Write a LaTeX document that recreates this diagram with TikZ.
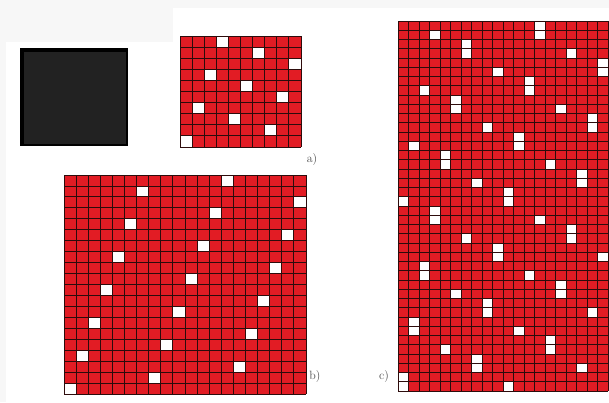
\documentclass[tikz,border=0pt]{standalone}
\usepackage{tikz}
\usepackage{xcolor}
\definecolor{cellred}{RGB}{226,28,36}
\definecolor{cellline}{RGB}{45,12,12}
\definecolor{panelgray}{RGB}{247,247,247}
\definecolor{squaregray}{RGB}{34,34,34}

\begin{document}
\begin{tikzpicture}[
  x=1pt, y=-1pt,
  font=\large,
  gridline/.style={draw=cellline, line width=0.9pt},
  hole/.style={fill=white},
  tag/.style={text=black!70, inner sep=0pt}
]
\useasboundingbox (0,0) rectangle (609,402);
\fill[white] (0,0) rectangle (609,402);
\fill[panelgray] (0,0) rectangle (173,42);
\fill[panelgray] (173,0) rectangle (609,8);
\fill[panelgray] (0,42) rectangle (6,402);

% solid square
\fill[black] (20,48) rectangle (128,146);
\fill[squaregray] (24,52) rectangle (126,144);

% a) 10 x 10
\begin{scope}[shift={(180,36)}, x=12.1pt, y=-11.1pt]
  \fill[cellred] (0,0) rectangle (10,10);
  \foreach \r in {0,...,9} {
    \pgfmathtruncatemacro\c{mod(7*\r,10)}
    \fill[hole] (\c,9-\r) rectangle ++(1,1);
  }
  \foreach \i in {0,...,10} {
    \draw[gridline] (\i,0) -- (\i,10);
    \draw[gridline] (0,\i) -- (10,\i);
  }
\end{scope}
\node[tag] (lbla) at (312,160) {a)};

% b) 20 x 20
\begin{scope}[shift={(64,175)}, x=12.1pt, y=-10.95pt]
  \fill[cellred] (0,0) rectangle (20,20);
  \foreach \r in {0,...,19} {
    \pgfmathtruncatemacro\c{mod(7*\r,20)}
    \fill[hole] (\c,19-\r) rectangle ++(1,1);
  }
  \foreach \i in {0,...,20} {
    \draw[gridline] (\i,0) -- (\i,20);
    \draw[gridline] (0,\i) -- (20,\i);
  }
\end{scope}
\node[tag] (lblb) at (315,376) {b)};

% c) 20 x 40
\begin{scope}[shift={(398,21)}, x=10.5pt, y=-9.25pt]
  \fill[cellred] (0,0) rectangle (20,40);
  \foreach \k in {0,...,19} {
    \pgfmathtruncatemacro\c{mod(7*\k,20)}
    \pgfmathtruncatemacro\d{mod(7*\k+10,20)}
    \fill[hole] (\c,38-2*\k) rectangle ++(1,1);
    \fill[hole] (\c,39-2*\k) rectangle ++(1,1);
    \fill[hole] (\d,39-2*\k) rectangle ++(1,1);
  }
  \foreach \i in {0,...,20}
    \draw[gridline] (\i,0) -- (\i,40);
  \foreach \j in {0,...,40}
    \draw[gridline] (0,\j) -- (20,\j);
\end{scope}
\node[tag] (lblc) at (384,376) {c)};
\end{tikzpicture}
\end{document}
